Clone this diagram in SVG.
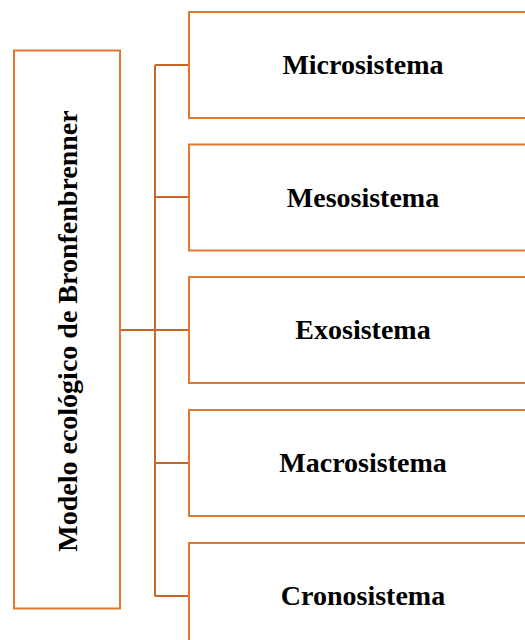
<svg xmlns="http://www.w3.org/2000/svg" width="525" height="640" viewBox="0 0 525 640">
<style>
.box{fill:#fff;stroke:#E0782F;stroke-width:2}
.con{fill:none;stroke:#C8672A;stroke-width:2}
.t{font-family:"Liberation Serif","Times New Roman",serif;font-weight:bold;font-size:28px;fill:#000;text-anchor:middle}
</style>
<rect width="525" height="640" fill="#fff"/>
<g id="connectors">
<path class="con" d="M155,65 V596 M155,65 H189 M155,197 H189 M155,330 H189 M155,463 H189 M155,596 H189 M120,330 H155"/>
</g>
<g id="modelo">
<rect class="box" x="14" y="50.5" width="106" height="558"/>
<text class="t" transform="translate(77,331) rotate(-90)">Modelo ecológico de Bronfenbrenner</text>
</g>
<g id="micro"><rect class="box" x="189" y="12" width="348" height="106"/><text class="t" x="363" y="74">Microsistema</text></g>
<g id="meso"><rect class="box" x="189" y="144.5" width="348" height="106"/><text class="t" x="363" y="206.5">Mesosistema</text></g>
<g id="exo"><rect class="box" x="189" y="277" width="348" height="106"/><text class="t" x="363" y="339">Exosistema</text></g>
<g id="macro"><rect class="box" x="189" y="410" width="348" height="106"/><text class="t" x="363" y="472">Macrosistema</text></g>
<g id="crono"><rect class="box" x="189" y="543" width="348" height="106"/><text class="t" x="363" y="605">Cronosistema</text></g>
</svg>
